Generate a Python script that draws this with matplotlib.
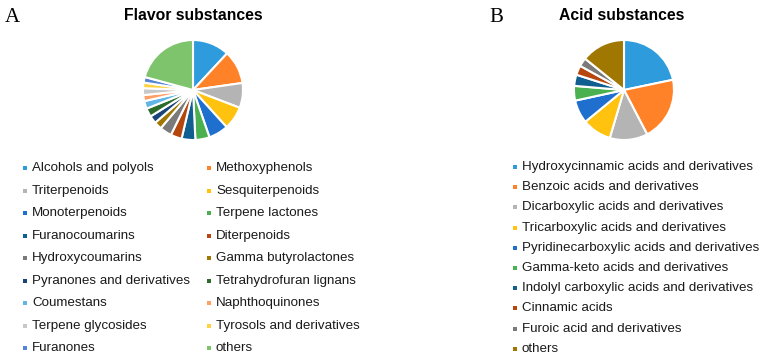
import matplotlib
matplotlib.use("Agg")
import matplotlib.pyplot as plt

plt.rcParams['font.family'] = ['Liberation Sans', 'DejaVu Sans']

flavor_labels = ["Alcohols and polyols", "Methoxyphenols", "Triterpenoids", "Sesquiterpenoids",
                 "Monoterpenoids", "Terpene lactones", "Furanocoumarins", "Diterpenoids",
                 "Hydroxycoumarins", "Gamma butyrolactones", "Pyranones and derivatives",
                 "Tetrahydrofuran lignans", "Coumestans", "Naphthoquinones", "Terpene glycosides",
                 "Tyrosols and derivatives", "Furanones", "others"]
flavor_values = [43, 39, 29, 27, 23, 16.5, 16, 13, 14, 9, 9, 10, 9, 7, 8, 6.5, 6.5, 75]

acid_labels = ["Hydroxycinnamic acids and derivatives", "Benzoic acids and derivatives",
               "Dicarboxylic acids and derivatives", "Tricarboxylic acids and derivatives",
               "Pyridinecarboxylic acids and derivatives", "Gamma-keto acids and derivatives",
               "Indolyl carboxylic acids and derivatives", "Cinnamic acids",
               "Furoic acid and derivatives", "others"]
acid_values = [78, 74, 44, 34, 27, 17, 13, 11, 10, 51]

palette = ["#2E9CDC", "#FF8229", "#B4B4B4", "#FFC20E", "#1F6FCF", "#4BB04F",
           "#115E90", "#B5470E", "#7A7A7A", "#A07700", "#1A4478", "#2D6B2B",
           "#62B6E6", "#FF9E66", "#C8C8C8", "#FFD23F", "#5585D3", "#7EC46C"]
acid_colors = palette[:9] + ["#A07700"]

W, H = 761, 359
fig = plt.figure(figsize=(W / 100, H / 100), dpi=100)

def pie_axes(cx, cy, r):
    return fig.add_axes([(cx - r) / W, (H - cy - r) / H, 2 * r / W, 2 * r / H])

axA = pie_axes(193, 90, 50)
axA.pie(flavor_values, colors=palette[:len(flavor_values)], startangle=90, counterclock=False,
        wedgeprops=dict(edgecolor="white", linewidth=1.5))
axA.set_xlim(-1, 1); axA.set_ylim(-1, 1); axA.axis("off")

axB = pie_axes(624, 90, 50)
axB.pie(acid_values, colors=acid_colors, startangle=90, counterclock=False,
        wedgeprops=dict(edgecolor="white", linewidth=1.5))
axB.set_xlim(-1, 1); axB.set_ylim(-1, 1); axB.axis("off")

ov = fig.add_axes([0, 0, 1, 1])
ov.set_xlim(0, W); ov.set_ylim(H, 0); ov.axis("off")

ov.text(12, 17, "A", family="Liberation Serif", fontsize=15, ha="center", va="center")
ov.text(496, 17, "B", family="Liberation Serif", fontsize=15, ha="center", va="center")
ov.text(193, 16, "Flavor substances", fontsize=11.3, fontweight="bold", ha="center", va="center")
ov.text(622, 16, "Acid substances", fontsize=11.3, fontweight="bold", ha="center", va="center")

# legend A (two columns)
rowsA = [168, 191, 213, 236, 258, 281, 303, 326, 348]
for i, lab in enumerate(flavor_labels):
    r, c = divmod(i, 2)
    mx = 25 if c == 0 else 209
    y = rowsA[r]
    ov.scatter([mx], [y], marker="s", s=9, color=palette[i], linewidths=0)
    ov.text(mx + 7, y, lab, fontsize=9.6, ha="left", va="center", color="#1a1a1a")

# legend B
for i, lab in enumerate(acid_labels):
    y = 167 + i * 20.2
    ov.scatter([515], [y], marker="s", s=9, color=acid_colors[i], linewidths=0)
    ov.text(522, y, lab, fontsize=9.6, ha="left", va="center", color="#1a1a1a")

fig.savefig("out.png", dpi=100)
